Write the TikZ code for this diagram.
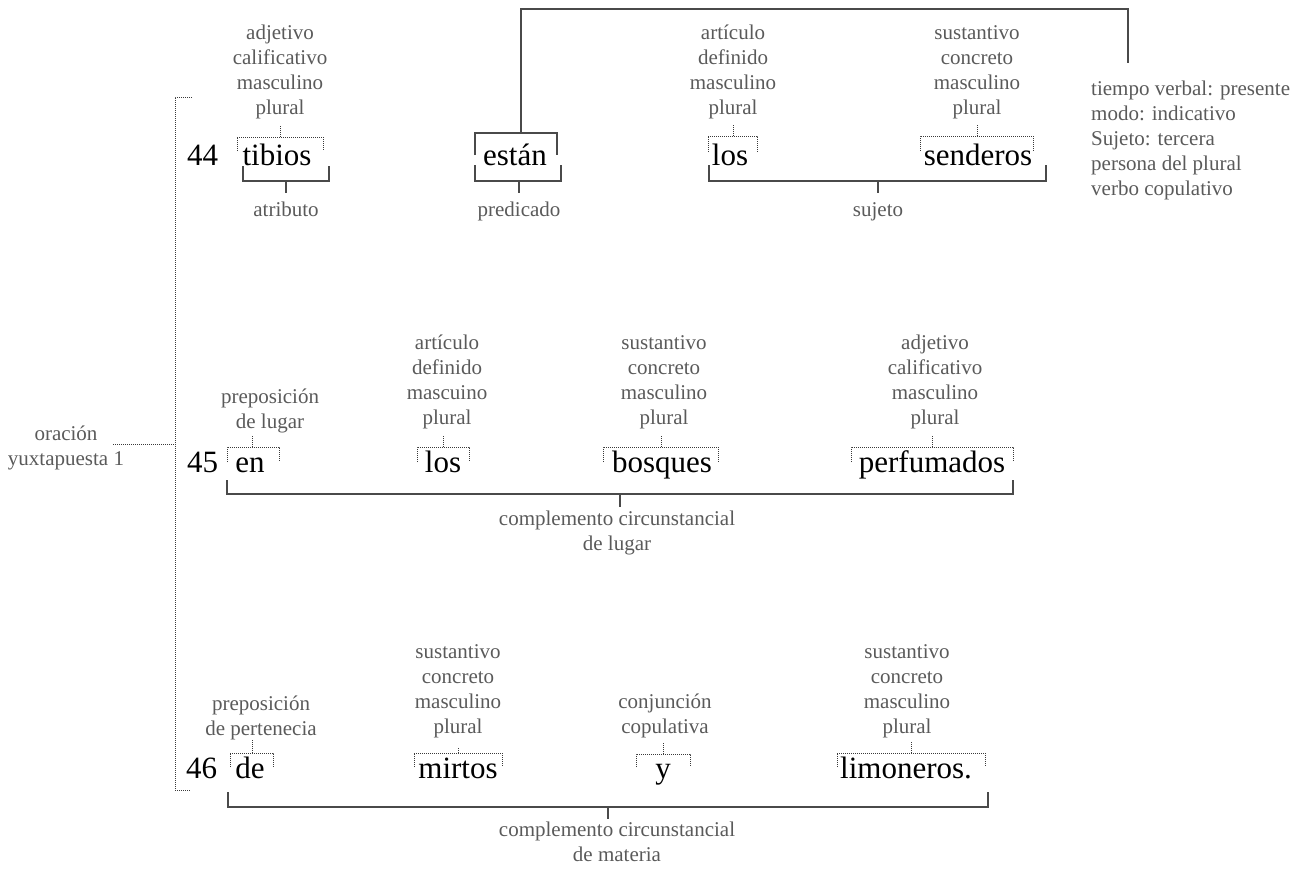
\documentclass[tikz,border=0pt]{standalone}
\usepackage{fontspec}
\setmainfont{Liberation Serif}
\definecolor{labgray}{HTML}{5A5A5A}
\definecolor{linegray}{HTML}{4A4A4A}
\definecolor{dotgray}{HTML}{3A3A3A}
% dotted box over a word, with its stem: x1, x2, top, bottom, stem x, stem top
\newcommand\dotbox[6]{%
  \draw[dotl] (#1,#4) -- (#1,#3) -- (#2,#3) -- (#2,#4);
  \draw[dotl] (#5,#3) -- (#5,#6);}
% solid bracket under a group: x1, x2, top, bottom, stem x, stem bottom
\newcommand\undbracket[6]{%
  \draw[solidl] (#1,#3) -- (#1,#4) -- (#2,#4) -- (#2,#3);
  \draw[solidl] (#5,#4) -- (#5,#6);}
\begin{document}
\begin{tikzpicture}[x=1pt,y=-1pt,
  word/.style={inner sep=0pt, anchor=base, font=\fontsize{31}{31}\selectfont, text=black},
  num/.style={word, anchor=base west},
  lab/.style={inner sep=0pt, align=center, font=\fontsize{21}{25}\selectfont, text=labgray},
  solidl/.style={draw=linegray, line width=1.3pt},
  dotl/.style={draw=dotgray, line width=1pt, dash pattern=on 1pt off 1pt},
]
\useasboundingbox (0,0) rectangle (1297,870);

% ---------- line 44 ----------
\node[num] (n44) at (187,165) {44};
\node[word] (w-tibios) at (277,165) {tibios};
\node[word] (w-estan) at (515,165) {están};
\node[word] (w-los1) at (730,165) {los};
\node[word] (w-senderos) at (978,165) {senderos};

\node[lab, anchor=south] (l-tibios) at (280,119) {adjetivo\\calificativo\\masculino\\plural};
\node[lab, anchor=south] (l-los1) at (733,119) {artículo\\definido\\masculino\\plural};
\node[lab, anchor=south] (l-senderos) at (977,119) {sustantivo\\concreto\\masculino\\plural};

\dotbox{237}{323}{137}{151}{280}{125}
\dotbox{708}{757}{136}{152}{733}{125}
\dotbox{920}{1033}{136}{151}{977}{125}

% verb frame and its link to the verb notes
\draw[solidl] (475,155) -- (475,133) -- (557,133) -- (557,155);
\draw[solidl] (521,133) -- (521,9) -- (1128,9) -- (1128,63);
\node[lab, align=left, anchor=north west] (verbnote) at (1091,81)
  {tiempo verbal: presente\\modo: indicativo\\Sujeto: tercera\\persona del plural\\verbo copulativo};

\undbracket{243}{329}{166}{181}{286}{193}
\undbracket{475}{561}{165}{181}{519}{193}
\undbracket{709}{1046}{165}{181}{878}{193}
\node[lab, anchor=north] (f-atributo) at (286,202) {atributo};
\node[lab, anchor=north] (f-predicado) at (519,202) {predicado};
\node[lab, anchor=north] (f-sujeto) at (878,202) {sujeto};

% ---------- line 45 ----------
\node[num] (n45) at (187,472) {45};
\node[word] (w-en) at (250,472) {en};
\node[word] (w-los2) at (443,472) {los};
\node[word] (w-bosques) at (662,472) {bosques};
\node[word] (w-perfumados) at (932,472) {perfumados};

\node[lab, anchor=south] (l-en) at (270,433) {preposición\\de lugar};
\node[lab, anchor=south] (l-los2) at (447,429) {artículo\\definido\\mascuino\\plural};
\node[lab, anchor=south] (l-bosques) at (664,429) {sustantivo\\concreto\\masculino\\plural};
\node[lab, anchor=south] (l-perfumados) at (935,429) {adjetivo\\calificativo\\masculino\\plural};

\dotbox{227}{279}{447}{462}{252}{435}
\dotbox{417}{469}{447}{462}{443}{436}
\dotbox{603}{718}{447}{462}{661}{436}
\dotbox{851}{1013}{447}{462}{932}{436}

\undbracket{227}{1013}{480}{494}{620}{507}
\node[lab, anchor=north] (f-ccl) at (617,511) {complemento circunstancial\\de lugar};

% ---------- line 46 ----------
\node[num] (n46) at (186,778) {46};
\node[word] (w-de) at (250,778) {de};
\node[word] (w-mirtos) at (458,778) {mirtos};
\node[word] (w-y) at (663,778) {y};
\node[word] (w-limoneros) at (906,778) {limoneros.};

\node[lab, anchor=south] (l-de) at (261,740) {preposición\\de pertenecia};
\node[lab, anchor=south] (l-mirtos) at (458,738) {sustantivo\\concreto\\masculino\\plural};
\node[lab, anchor=south] (l-y) at (665,738) {conjunción\\copulativa};
\node[lab, anchor=south] (l-limoneros) at (907,738) {sustantivo\\concreto\\masculino\\plural};

\dotbox{230}{273}{753}{767}{252}{740}
\dotbox{414}{502}{753}{767}{458}{747}
\dotbox{636}{690}{754}{767}{663}{743}
\dotbox{837}{985}{753}{767}{911}{742}

\undbracket{228}{988}{792}{807}{608}{819}
\node[lab, anchor=north] (f-ccm) at (617,822) {complemento circunstancial\\de materia};

% ---------- sentence bracket ----------
\node[lab] (oracion) at (66,448) {oración\\yuxtapuesta 1};
\draw[dotl] (192,97) -- (175,97) -- (175,790) -- (191,790);
\draw[dotl] (oracion.east |- 0,444) ++(-11,0) -- (175,444);
\end{tikzpicture}
\end{document}
